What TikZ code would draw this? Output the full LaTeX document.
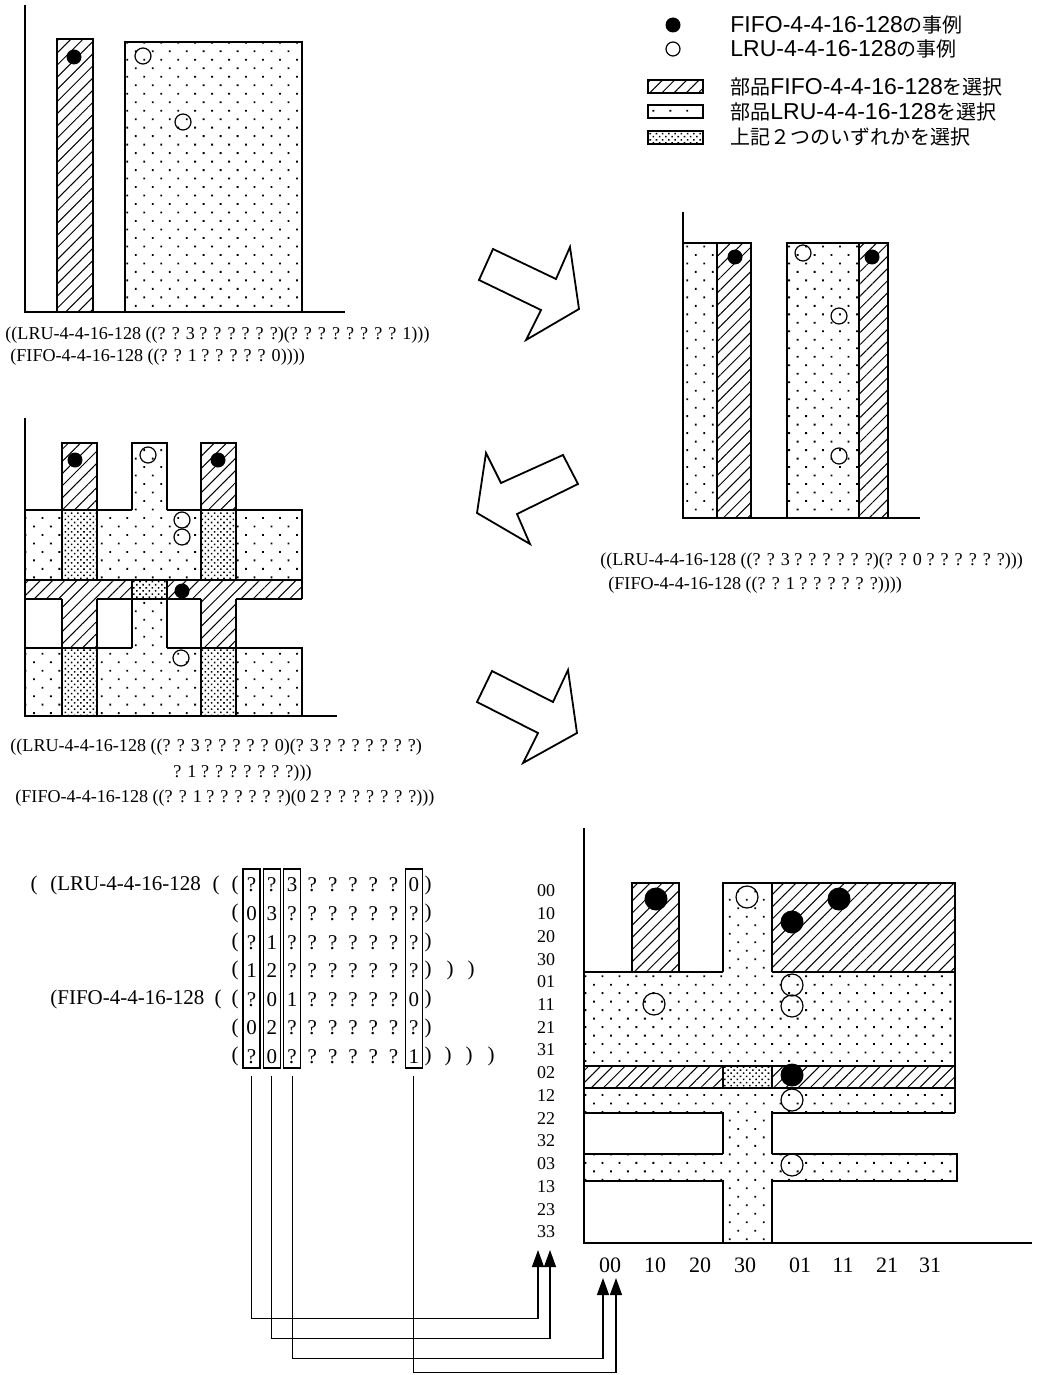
\documentclass[tikz,border=0pt]{standalone}
\usepackage{fontspec}
\setmainfont{Liberation Serif}
\newfontfamily\jpfont{Noto Sans CJK JP}
\newfontfamily\latfont{Liberation Sans}
\usetikzlibrary{arrows.meta,patterns.meta,positioning}
\newcommand\lat[1]{{\latfont\fontsize{11.5}{13}\selectfont #1}}

\begin{document}
\begin{tikzpicture}[x=0.5pt,y=-0.5pt,
  axis/.style={line width=1pt},
  edge/.style={line width=0.65pt},
  hatchfill/.style={pattern={Lines[angle=45,distance=4.3pt,line width=0.5pt]}},
  dotfill/.style={pattern={Dots[angle=45,distance=6pt,radius=0.65pt]}},
  densefill/.style={pattern={Dots[angle=45,distance=2.2pt,radius=0.55pt]}},
  lru/.style={draw,line width=0.6pt},
  sexp/.style={font=\fontsize{9.05}{11}\selectfont,anchor=west,inner sep=0pt},
  legend/.style={font=\jpfont\fontsize{10}{12}\selectfont,anchor=west,inner sep=0pt},
  cell/.style={font=\fontsize{10.5}{12}\selectfont,inner sep=0pt},
  rowtick/.style={font=\fontsize{9}{10}\selectfont,inner sep=0pt},
  coltick/.style={font=\fontsize{11}{12}\selectfont,inner sep=0pt},
  bigarrow/.style={draw,line width=0.9pt,line join=miter,fill=white},
  colbox/.style={draw,line width=0.6pt,minimum width=8.5pt,minimum height=99.5pt,inner sep=0pt},
  conn/.style={line width=0.55pt,-{Triangle[length=8.5pt,width=6pt]},shorten <=3.5pt}]
\fill[white] (0,0) rectangle (1040,1375);
\useasboundingbox (0,0) rectangle (1040,1375);

% legend
\fill (673,25) circle[radius=7.5];
\draw[lru] (673,49) circle[radius=7];
\draw[edge,hatchfill] (648,80) rectangle (703,93);
\draw[edge,dotfill] (648,105) rectangle (703,118);
\draw[edge,densefill] (648,131) rectangle (703,144);
\node[legend] (lgfifo) at (730,25) {\lat{FIFO-4-4-16-128}の事例};
\node[legend] (lglru) at (730,49) {\lat{LRU-4-4-16-128}の事例};
\node[legend] (lghatch) at (730,87) {部品\lat{FIFO-4-4-16-128}を選択};
\node[legend] (lgdots) at (730,112) {部品\lat{LRU-4-4-16-128}を選択};
\node[legend] (lgdense) at (730,137) {上記２つのいずれかを選択};

% step 1
\draw[axis] (25,5) -- (25,312) -- (345,312);
\draw[edge,hatchfill] (57,39) rectangle (93,312);
\draw[edge,dotfill] (125,42) rectangle (302,312);
\fill (74,57) circle[radius=7.5];
\draw[lru] (143,56) circle[radius=8];
\draw[lru] (183,122) circle[radius=8];
\node[sexp] (oneLRU) at (5,335) {((LRU-4-4-16-128 ((? ? 3 ? ? ? ? ? ?)(? ? ? ? ? ? ? ? 1)))};
\node[sexp] (oneFIFO) at (10,357) {(FIFO-4-4-16-128 ((? ? 1 ? ? ? ? ? 0))))};

\draw[bigarrow] (493,249) -- (556,279) -- (570,247) -- (579,309) -- (526,340) -- (541,310) -- (479,280) -- cycle;

% step 2
\draw[axis] (683,212) -- (683,518) -- (920,518);
\draw[edge,dotfill] (683,243) rectangle (717,518);
\draw[edge,hatchfill] (717,243) rectangle (751,518);
\draw[edge,dotfill] (787,243) rectangle (859,518);
\draw[edge,hatchfill] (859,243) rectangle (888,518);
\fill (735,257) circle[radius=7.5];
\fill (872,257) circle[radius=7.5];
\draw[lru] (803,253) circle[radius=8];
\draw[lru] (839,316) circle[radius=8];
\draw[lru] (839,456) circle[radius=8];
\node[sexp] (twoLRU) at (600,561) {((LRU-4-4-16-128 ((? ? 3 ? ? ? ? ? ?)(? ? 0 ? ? ? ? ? ?)))};
\node[sexp] (twoFIFO) at (608,585) {(FIFO-4-4-16-128 ((? ? 1 ? ? ? ? ? ?))))};

\draw[bigarrow] (563,455) -- (578,484) -- (517,514) -- (530,544) -- (477,513) -- (486,453) -- (501,483) -- cycle;

% step 3
\fill[hatchfill] (62,443) rectangle (97,510) (201,443) rectangle (236,510)
  (25,580) rectangle (132,599) (167,580) rectangle (302,599)
  (62,599) rectangle (97,648) (201,599) rectangle (236,648);
\fill[dotfill] (132,443) rectangle (167,510) (25,510) rectangle (62,580)
  (97,510) rectangle (201,580) (236,510) rectangle (302,580)
  (132,599) rectangle (167,648) (25,648) rectangle (62,716)
  (97,648) rectangle (201,716) (236,648) rectangle (302,716);
\fill[densefill] (62,510) rectangle (97,580) (201,510) rectangle (236,580)
  (132,580) rectangle (167,599) (62,648) rectangle (97,716) (201,648) rectangle (236,716);
\draw[edge] (62,580) -- (62,443) -- (97,443) -- (97,580)
  (201,580) -- (201,443) -- (236,443) -- (236,580)
  (132,510) -- (132,443) -- (167,443) -- (167,510)
  (25,510) -- (132,510) (167,510) -- (302,510) -- (302,599)
  (25,580) -- (302,580)
  (25,599) -- (62,599) (97,599) -- (201,599) (236,599) -- (302,599)
  (132,580) -- (132,648) (167,580) -- (167,648)
  (62,599) -- (62,716) (97,599) -- (97,716) (201,599) -- (201,716) (236,599) -- (236,716)
  (25,648) -- (132,648) (167,648) -- (302,648) -- (302,716);
\draw[axis] (25,418) -- (25,716) -- (337,716);
\fill (75,460) circle[radius=7.5];
\fill (218,460) circle[radius=7.5];
\fill (182,591) circle[radius=7.5];
\draw[lru] (148,455) circle[radius=8];
\draw[lru] (182,520) circle[radius=8];
\draw[lru] (182,537) circle[radius=8];
\draw[lru] (181,658) circle[radius=8];
\node[sexp] (threeLRU) at (10,747) {((LRU-4-4-16-128 ((? ? 3 ? ? ? ? ? 0)(? 3 ? ? ? ? ? ? ?)};
\node[sexp] (threeLRUb) at (173,773) {? 1 ? ? ? ? ? ? ?)))};
\node[sexp] (threeFIFO) at (15,798) {(FIFO-4-4-16-128 ((? ? 1 ? ? ? ? ? ?)(0 2 ? ? ? ? ? ? ?)))};

\draw[bigarrow] (492,671) -- (553,702) -- (568,670) -- (577,733) -- (523,763) -- (538,733) -- (477,702) -- cycle;

% step 4
\fill[hatchfill] (632,883) rectangle (679,972) (772,883) rectangle (955,972)
  (584,1066) rectangle (723,1088) (772,1066) rectangle (955,1088);
\fill[dotfill] (723,883) rectangle (772,972) (584,972) rectangle (955,1066)
  (584,1088) rectangle (955,1113) (723,1113) rectangle (772,1243)
  (584,1154) rectangle (957,1181);
\fill[densefill] (723,1066) rectangle (772,1088);
\draw[edge] (632,972) -- (632,883) -- (679,883) -- (679,972)
  (723,972) -- (723,883) -- (955,883) -- (955,1113)
  (772,883) -- (772,972)
  (584,972) -- (723,972) (772,972) -- (955,972)
  (584,1066) -- (955,1066) (584,1088) -- (955,1088)
  (723,1066) -- (723,1088) (772,1066) -- (772,1088)
  (584,1113) -- (723,1113) -- (723,1154) (772,1154) -- (772,1113) -- (955,1113)
  (584,1154) -- (723,1154) (772,1154) -- (957,1154) -- (957,1181) -- (772,1181) -- (772,1243)
  (584,1181) -- (723,1181) -- (723,1243);
\draw[axis] (584,828) -- (584,1243) -- (1032,1243);
\fill (656,899) circle[radius=11.5];
\fill (839,899) circle[radius=11.5];
\fill (792,922) circle[radius=11.5];
\fill (792,1075) circle[radius=11.5];
\draw[lru] (747,897) circle[radius=11];
\draw[lru] (654,1004) circle[radius=11];
\draw[lru] (792,985) circle[radius=11];
\draw[lru] (792,1006) circle[radius=11];
\draw[lru] (792,1100) circle[radius=11];
\draw[lru] (792,1165) circle[radius=11];
\foreach \t [count=\i] in {00,10,20,30,01,11,21,31,02,12,22,32,03,13,23,33}
  \node[rowtick] (row\t) at (546,{891+(\i-1)*22.73}) {\t};
\foreach \t/\x in {00/610,10/655,20/700,30/745,01/800,11/843,21/887,31/930}
  \node[coltick] (col\t) at (\x,1265) {\t};

% chromosome table
\node[cell] (open0) at (34,885) {(};
\node[cell,anchor=west] (lruname) at (50,885) {(LRU-4-4-16-128};
\node[cell] (open1) at (216,885) {(};
\node[cell,anchor=west] (fifoname) at (50,999) {(FIFO-4-4-16-128};
\node[cell] (open2) at (218,999) {(};
\foreach \a/\b/\c/\d [count=\i] in {?/?/3/0,0/3/?/?,?/1/?/?,1/2/?/?,?/0/1/0,0/2/?/?,?/0/?/1}{
  \pgfmathsetmacro\y{885+(\i-1)*28.6}
  \node[cell] (lp\i) at (235,\y) {(};
  \node[cell] (ga\i) at (251.5,\y) {\a};
  \node[cell] (gb\i) at (271.8,\y) {\b};
  \node[cell] (gc\i) at (292.1,\y) {\c};
  \foreach \k in {3,...,7}
    \node[cell] (gq\i-\k) at ({251.5+\k*20.3},\y) {?};
  \node[cell] (gd\i) at (413.9,\y) {\d};
  \node[cell] (rp\i) at (428,\y) {)};
}
\node[cell] (close4a) at (450,970.8) {)};
\node[cell] (close4b) at (471,970.8) {)};
\node[cell] (close7a) at (448,1056.6) {)};
\node[cell] (close7b) at (469,1056.6) {)};
\node[cell] (close7c) at (491,1056.6) {)};
\node[colbox] (box1) at (251.5,968.5) {};
\node[colbox] (box2) at (271.8,968.5) {};
\node[colbox] (box3) at (292.1,968.5) {};
\node[colbox] (box4) at (413.9,968.5) {};

\coordinate (tipA) at (538,1250);
\coordinate (tipB) at (550,1250);
\coordinate (tipC) at (603,1278);
\coordinate (tipD) at (616,1278);
\draw[conn] (box1.south) -- ++(0,250) -| (tipA);
\draw[conn] (box2.south) -- ++(0,270) -| (tipB);
\draw[conn] (box3.south) -- ++(0,290) -| (tipC);
\draw[conn] (box4.south) -- ++(0,304) -| (tipD);
\end{tikzpicture}
\end{document}
